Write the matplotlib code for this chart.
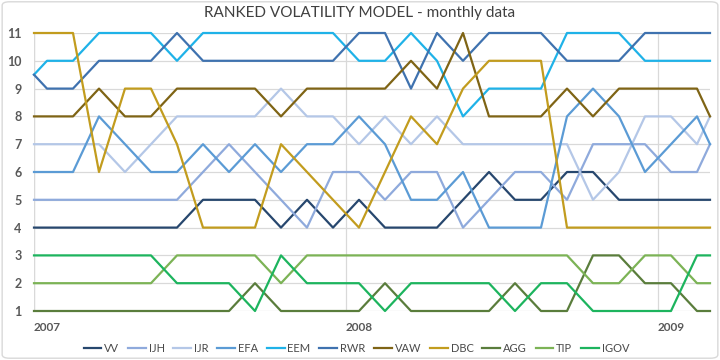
import matplotlib
matplotlib.use("Agg")
import matplotlib.pyplot as plt
from matplotlib.patches import FancyBboxPatch

# x positions in months since Jan 2007 (first/last are partial points)
months = [0] + [k - 0.5 for k in range(1, 27)] + [26]

VV   = [4, 4, 4, 4, 4, 4, 4, 5, 5, 5, 4, 5, 4, 5, 4, 4, 4, 5, 6, 5, 5, 6, 6, 5, 5, 5, 5, 5]
IJH  = [5, 5, 5, 5, 5, 5, 5, 6, 7, 6, 5, 4, 6, 6, 5, 6, 6, 4, 5, 6, 6, 5, 7, 7, 7, 6, 6, 7]
IJR  = [7, 7, 7, 7, 6, 7, 8, 8, 8, 8, 9, 8, 8, 7, 8, 7, 8, 7, 7, 7, 7, 7, 5, 6, 8, 8, 7, 8]
EFA  = [6, 6, 6, 8, 7, 6, 6, 7, 6, 7, 6, 7, 7, 8, 7, 5, 5, 6, 4, 4, 4, 8, 9, 8, 6, 7, 8, 7]
EEM  = [9.5, 10, 10, 11, 11, 11, 10, 11, 11, 11, 11, 11, 11, 10, 10, 11, 10, 8, 9, 9, 9, 11, 11, 11, 10, 10, 10, 10]
RWR  = [9.5, 9, 9, 10, 10, 10, 11, 10, 10, 10, 10, 10, 10, 11, 11, 9, 11, 10, 11, 11, 11, 10, 10, 10, 11, 11, 11, 11]
VAW  = [8, 8, 8, 9, 8, 8, 9, 9, 9, 9, 8, 9, 9, 9, 9, 10, 9, 11, 8, 8, 8, 9, 8, 9, 9, 9, 9, 8]
DBC  = [11, 11, 11, 6, 9, 9, 7, 4, 4, 4, 7, 6, 5, 4, 6, 8, 7, 9, 10, 10, 10, 4, 4, 4, 4, 4, 4, 4]
AGG  = [1, 1, 1, 1, 1, 1, 1, 1, 1, 2, 1, 1, 1, 1, 2, 1, 1, 1, 1, 2, 1, 1, 3, 3, 2, 2, 1, 1]
TIP  = [2, 2, 2, 2, 2, 2, 3, 3, 3, 3, 2, 3, 3, 3, 3, 3, 3, 3, 3, 3, 3, 3, 2, 2, 3, 3, 2, 2]
IGOV = [3, 3, 3, 3, 3, 3, 2, 2, 2, 1, 3, 2, 2, 2, 1, 2, 2, 2, 2, 1, 2, 2, 1, 1, 1, 1, 3, 3]

names = ["VV", "IJH", "IJR", "EFA", "EEM", "RWR", "VAW", "DBC", "AGG", "TIP", "IGOV"]
series = [VV, IJH, IJR, EFA, EEM, RWR, VAW, DBC, AGG, TIP, IGOV]
colors = ["#27476e", "#8faadc", "#b4c7e7", "#5b9bd5", "#1fb2e8", "#3f72af",
          "#7f6415", "#c29c1e", "#5a7d3c", "#7cb356", "#1db45e"]

year_ticks = [0, 12, 24]
year_labels = ["2007", "2008", "2009"]
rank_ticks = list(range(1, 12))

plt.rcParams['font.family'] = ['Lato', 'DejaVu Sans']

fig = plt.figure(figsize=(7.2, 3.6), dpi=100)
ax = fig.add_axes([34/720, 1 - 311/360, (710 - 34)/720, (311 - 33)/360])

for name, vals, c in zip(names, series, colors):
    ax.plot(months, vals, color=c, lw=1.6, label=name, clip_on=False, zorder=3)

ax.set_xlim(0, 26)
ax.set_ylim(1, 11)
ax.set_yticks(rank_ticks)
ax.set_yticklabels([str(r) for r in rank_ticks], fontsize=9, fontweight='bold', color='#595959')
ax.set_xticks(year_ticks)
ax.set_xticklabels(year_labels, fontsize=8.5, fontweight='bold', color='#595959', ha='left')
ax.tick_params(axis='both', length=0)
ax.tick_params(axis='y', pad=9)
ax.tick_params(axis='x', pad=8)
ax.grid(True, color='#d9d9d9', lw=0.9, zorder=0)
for s in ax.spines.values():
    s.set_visible(False)
ax.axvline(0, color='#d9d9d9', lw=0.9, zorder=0)

fig.text(0.5, 1 - 13/360, "RANKED VOLATILITY MODEL - monthly data", ha='center', va='center',
         fontsize=11, color='#404040')

leg = fig.legend(loc='center', bbox_to_anchor=(0.495, 1 - 348/360), ncol=11, frameon=False,
                 fontsize=8, handlelength=1.6, handletextpad=0.25, columnspacing=0.8)
for t in leg.get_texts():
    t.set_color('#4a4a4a')

fig.patches.append(FancyBboxPatch((0.003, 0.005), 0.994, 0.99, boxstyle="round,pad=0,rounding_size=0.01",
                                  transform=fig.transFigure, fill=False, edgecolor='#d9d9d9', lw=1))

fig.savefig("out.png", dpi=100)
